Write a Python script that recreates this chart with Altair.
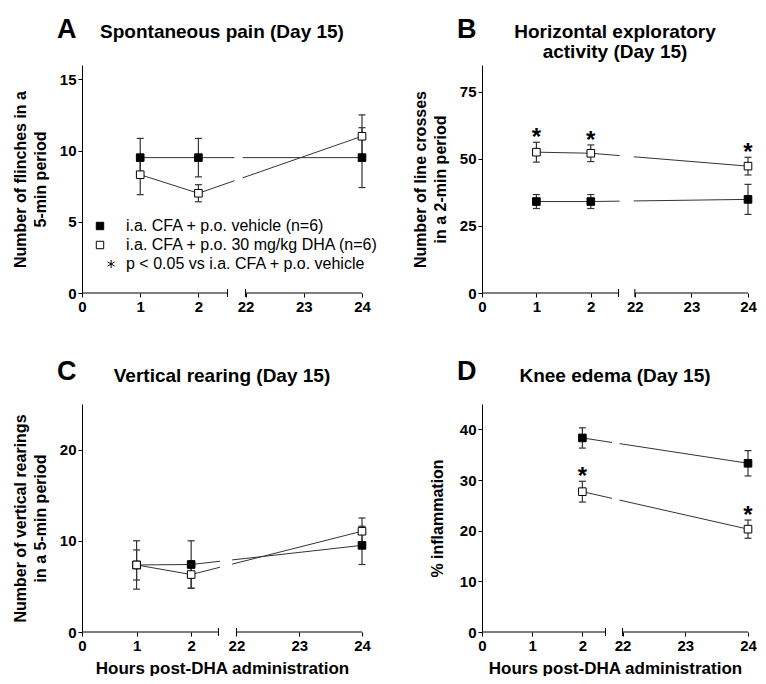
import altair as alt
import pandas as pd

FONT = "Liberation Sans"

# ---------------- data ----------------
group_labels = ["i.a. CFA + p.o. vehicle (n=6)", "i.a. CFA + p.o. 30 mg/kg DHA (n=6)"]
sig_label = "p < 0.05 vs i.a. CFA + p.o. vehicle"
x_tick_hours = [0, 1, 2, 22, 23, 24]

# Panel A - spontaneous pain
A_hours = [1, 2, 24]
A_veh_mean = [9.5, 9.5, 9.5]
A_veh_sem = [1.35, 1.35, 2.1]
A_dha_mean = [8.3, 7.0, 11.0]
A_dha_sem = [1.4, 0.6, 1.5]
A_dha_sig = [False, False, False]
A_yticks = [0, 5, 10, 15]

# Panel B - horizontal exploratory activity
B_hours = [1, 2, 24]
B_veh_mean = [34.1, 34.1, 34.9]
B_veh_sem = [2.6, 2.6, 5.6]
B_dha_mean = [52.5, 52.1, 47.3]
B_dha_sem = [3.7, 3.1, 3.3]
B_dha_sig = [True, True, True]
B_yticks = [0, 25, 50, 75]

# Panel C - vertical rearing
C_hours = [1, 2, 24]
C_veh_mean = [7.35, 7.4, 9.5]
C_veh_sem = [1.65, 2.6, 2.1]
C_dha_mean = [7.35, 6.3, 11.05]
C_dha_sem = [2.65, 1.5, 1.45]
C_dha_sig = [False, False, False]
C_yticks = [0, 10, 20]

# Panel D - knee edema
D_hours = [2, 24]
D_veh_mean = [38.3, 33.3]
D_veh_sem = [2.0, 2.5]
D_dha_mean = [27.7, 20.3]
D_dha_sem = [2.05, 1.8]
D_dha_sig = [True, True]
D_yticks = [0, 10, 20, 30, 40]

# ---------------- layout / styling ----------------
# broken axis: b = end of first segment, s = start of second segment, r = unit ratio of 2nd segment
LAYOUT = {
    "A": dict(b=2.5, s=2.81, r=1.0, gap=(2.62, 2.76), ymax=16, w=280, tp=11),
    "B": dict(b=2.51, s=2.81, r=1.04, gap=(2.53, 2.79), ymax=85, w=266, tp=11),
    "C": dict(b=2.5, s=2.83, r=1.15, gap=(2.53, 2.75), ymax=25, w=280, tp=11),
    "D": dict(b=2.46, s=2.8, r=1.25, gap=(2.59, 2.74), ymax=45, w=266, tp=14),
}
H = 228
LINE_COLOR = "#333333"

leg_domain = group_labels + [sig_label]
ast_path = "M3,-1.1L3,1.1M2.05,-0.55L3.95,0.55M2.05,0.55L3.95,-0.55"


def make_panel(key, letter, title_lines, title_y, letter_y, hours, vm, vs, dm, ds, sig,
               yticks, ytitle, xtitle, show_legend):
    L = LAYOUT[key]
    W = L["w"]

    def to_pos(h):
        return h if h <= 2.5 else L["s"] + (h - 22) * L["r"]

    xend = L["s"] + 2 * L["r"]
    rows = []
    for g, means, sems, sigs in [(group_labels[0], vm, vs, [False] * len(vm)),
                                 (group_labels[1], dm, ds, sig)]:
        for h, m, e, sg in zip(hours, means, sems, sigs):
            rows.append(dict(group=g, hour=h, pos=to_pos(h), mean=m, lo=m - e, hi=m + e, sig=sg))
    df = pd.DataFrame(rows)

    tick_pos = [to_pos(h) for h in x_tick_hours]
    expr = ""
    for p, h in zip(tick_pos, x_tick_hours):
        expr += f"abs(datum.value - {p}) < 0.001 ? '{h}' : "
    expr += "''"

    xaxis = dict(values=tick_pos, labelExpr=expr, domain=False, grid=False, tickSize=4,
                 tickColor="black", tickWidth=1, labelFont=FONT, labelFontSize=15,
                 labelFontWeight="bold", labelColor="black", labelPadding=2,
                 title=xtitle, titleFont=FONT, titleFontSize=17, titleFontWeight="bold",
                 titleColor="black", titlePadding=7, labelFlush=False)
    yaxis = dict(values=yticks, domain=True, domainColor="black", domainWidth=1, grid=False,
                 tickSize=4, tickColor="black", tickWidth=1, labelFont=FONT, labelFontSize=15,
                 labelFontWeight="bold", labelColor="black", labelPadding=2,
                 title=ytitle, titleFont=FONT, titleFontSize=16, titleFontWeight="bold",
                 titleColor="black", titlePadding=L["tp"], titleLineHeight=20)
    xscale = alt.Scale(domain=[0, xend], nice=False, zero=False)
    yscale = alt.Scale(domain=[0, L["ymax"]], nice=False, zero=True)

    def X(f):
        return alt.X(f"{f}:Q", scale=xscale, axis=alt.Axis(**xaxis))

    def Y(f):
        return alt.Y(f"{f}:Q", scale=yscale, axis=alt.Axis(**yaxis))

    base = alt.Chart(df)
    lines = base.mark_line(color=LINE_COLOR, strokeWidth=1).encode(
        x=X("pos"), y=Y("mean"), detail="group:N", order="pos:Q")

    gap_df = pd.DataFrame({"g1": [L["gap"][0]], "g2": [L["gap"][1]], "y0": [0.0], "y1": [L["ymax"]]})
    gap = alt.Chart(gap_df).mark_rect(color="white").encode(
        x=X("g1"), x2="g2", y=Y("y0"), y2="y1")

    bars = base.mark_rule(color=LINE_COLOR, strokeWidth=1.2).encode(x=X("pos"), y=Y("lo"), y2="hi")
    cap_hi = base.mark_rule(color=LINE_COLOR, strokeWidth=1.2, xOffset=-3.5, x2Offset=3.5).encode(
        x=X("pos"), x2="pos", y=Y("hi"))
    cap_lo = base.mark_rule(color=LINE_COLOR, strokeWidth=1.2, xOffset=-3.5, x2Offset=3.5).encode(
        x=X("pos"), x2="pos", y=Y("lo"))

    if show_legend:
        leg = alt.Legend(orient="none", legendX=10, legendY=153, title=None, labelFont=FONT,
                         labelFontSize=16, labelColor="black", labelLimit=400, symbolSize=55,
                         symbolStrokeWidth=1, rowPadding=3, labelOffset=18, padding=0)
    else:
        leg = None
    squares = base.mark_point(filled=True, opacity=1, size=58, strokeWidth=1).encode(
        x=X("pos"), y=Y("mean"),
        shape=alt.Shape("group:N", scale=alt.Scale(domain=leg_domain, range=["square", "square", ast_path]), legend=leg),
        fill=alt.Fill("group:N", scale=alt.Scale(domain=leg_domain, range=["black", "white", "transparent"]), legend=leg),
        stroke=alt.Stroke("group:N", scale=alt.Scale(domain=leg_domain, range=["black", "black", "black"]), legend=leg),
    )

    layers = [lines, gap, bars, cap_hi, cap_lo, squares]

    sig_df = df[df["sig"]]
    if len(sig_df):
        stars = alt.Chart(sig_df).mark_text(text="*", font=FONT, fontSize=24, fontWeight="bold",
                                            baseline="alphabetic", dy=3, color="black").encode(
            x=X("pos"), y=Y("hi"))
        layers.append(stars)

    seg_df = pd.DataFrame({"x": [0.0, L["s"]], "x2": [L["b"], xend], "y": [0.0, 0.0]})
    segs = alt.Chart(seg_df).mark_rule(color="black", strokeWidth=1).encode(x=X("x"), x2="x2", y=Y("y"))
    brk_df = pd.DataFrame({"x": [L["b"], L["s"]], "y": [0.0, 0.0]})
    brks = alt.Chart(brk_df).mark_rule(color="black", strokeWidth=1, yOffset=-4, y2Offset=4).encode(
        x=X("x"), y=Y("y"), y2="y")
    layers += [segs, brks]

    one = pd.DataFrame({"k": [0]})
    let = alt.Chart(one).mark_text(text=letter, font=FONT, fontSize=27, fontWeight="bold",
                                   align="left", baseline="alphabetic", color="black").encode(
        x=alt.value(-25), y=alt.value(letter_y))
    ttl = alt.Chart(one).mark_text(text=title_lines, font=FONT, fontSize=19, fontWeight="bold",
                                   align="center", baseline="alphabetic", lineHeight=20,
                                   color="black").encode(
        x=alt.value(W / 2), y=alt.value(title_y))
    layers += [let, ttl]

    return alt.layer(*layers).properties(width=W, height=H)


pA = make_panel("A", "A", "Spontaneous pain (Day 15)", -27, -27, A_hours, A_veh_mean, A_veh_sem,
                A_dha_mean, A_dha_sem, A_dha_sig, A_yticks,
                ["Number of flinches in a", "5-min period"], None, True)
pB = make_panel("B", "B", ["Horizontal exploratory", "activity (Day 15)"], -27, -27, B_hours,
                B_veh_mean, B_veh_sem, B_dha_mean, B_dha_sem, B_dha_sig, B_yticks,
                ["Number of line crosses", "in a 2-min period"], None, False)
pC = make_panel("C", "C", "Vertical rearing (Day 15)", -22, -24, C_hours, C_veh_mean, C_veh_sem,
                C_dha_mean, C_dha_sem, C_dha_sig, C_yticks,
                ["Number of vertical rearings", "in a 5-min period"],
                "Hours post-DHA administration", False)
pD = make_panel("D", "D", "Knee edema (Day 15)", -22, -24, D_hours, D_veh_mean, D_veh_sem,
                D_dha_mean, D_dha_sem, D_dha_sig, D_yticks,
                "% inflammation", "Hours post-DHA administration", False)

chart = alt.concat(pA, pB, pC, pD, columns=2, spacing={"column": 120, "row": 111},
                   align="each", bounds="flush").resolve_scale(
    shape="independent", fill="independent", stroke="independent"
).properties(
    padding={"left": 4, "top": 8, "right": 0, "bottom": 0}
).configure_view(strokeWidth=0)

chart.save("out.html", embed_options={"renderer": "svg", "actions": False})
